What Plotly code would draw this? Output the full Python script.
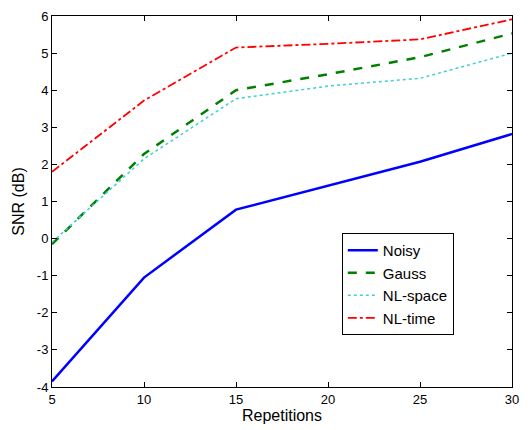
import plotly.graph_objects as go

repetitions = [5, 10, 15, 20, 25, 30]
noisy = [-3.85, -1.05, 0.78, 1.43, 2.07, 2.82]
gauss = [-0.15, 2.28, 4.0, 4.43, 4.89, 5.53]
nl_space = [-0.1, 2.15, 3.77, 4.11, 4.32, 5.0]
nl_time = [1.8, 3.72, 5.15, 5.25, 5.37, 5.91]

y_tick_values = [-4, -3, -2, -1, 0, 1, 2, 3, 4, 5, 6]
y_tick_labels = ["-4", "-3", "-2", "-1", "0", "1", "2", "3", "4", "5", "6"]

series = [
    ("Noisy", noisy, "#0000ff", "solid", 2.5),
    ("Gauss", gauss, "#008000", "dash", 2.5),
    ("NL-space", nl_space, "#40d0d0", "dot", 1.5),
    ("NL-time", nl_time, "#ff0000", "dashdot", 1.8),
]

fig = go.Figure()
for name, vals, color, dash, w in series:
    fig.add_trace(go.Scatter(x=repetitions, y=vals, mode="lines", name=name,
                             line=dict(color=color, dash=dash, width=w)))

axis_common = dict(showline=True, linecolor="black", linewidth=1, mirror="ticks",
                   ticks="inside", ticklen=5, tickcolor="black", showgrid=False,
                   zeroline=False, automargin=False,
                   tickfont=dict(size=13, color="black"))

fig.update_layout(
    width=531, height=430,
    margin=dict(l=44, r=27, t=8, b=51),
    paper_bgcolor="white", plot_bgcolor="white",
    font=dict(family="Liberation Sans, Arial, sans-serif", size=13, color="black"),
    xaxis=dict(range=[5, 30], dtick=5, title=dict(text="Repetitions", standoff=2), **axis_common),
    yaxis=dict(range=[-4, 6], tickmode="array", tickvals=y_tick_values, ticktext=y_tick_labels,
               title=dict(text="SNR (dB)", standoff=8), **axis_common),
    legend=dict(x=0.63, y=0.415, xanchor="left", yanchor="top", bgcolor="white",
                bordercolor="black", borderwidth=1, font=dict(size=15),
                tracegroupgap=0, itemwidth=30),
    showlegend=True,
)

fig.write_html("out.html")
